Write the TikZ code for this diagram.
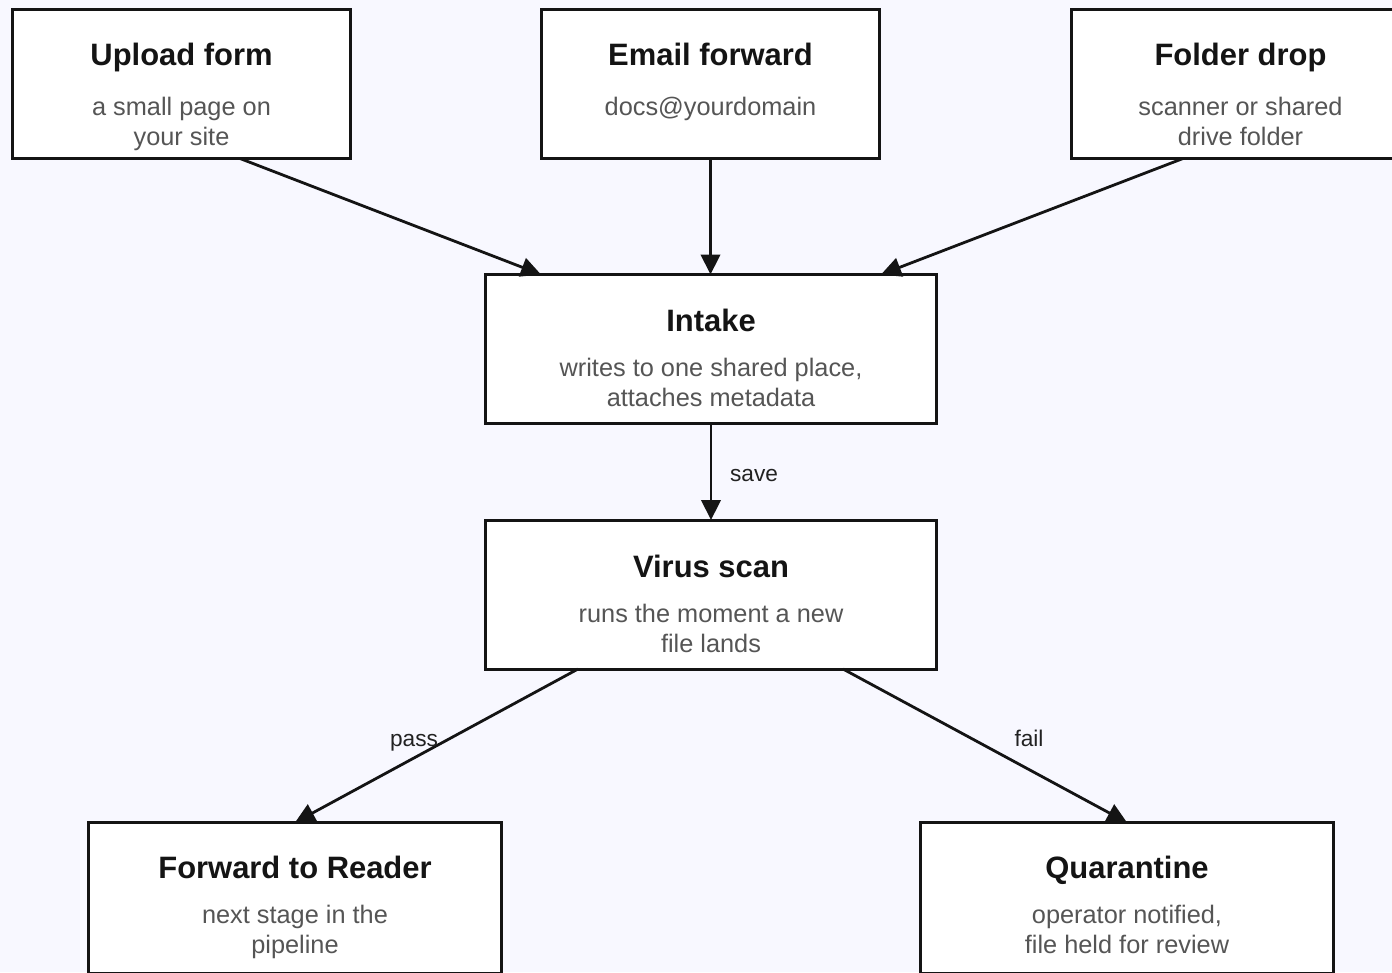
\documentclass[tikz,border=0pt]{standalone}
\usepackage{fontspec}
\setmainfont{Liberation Sans}
\usetikzlibrary{arrows.meta,calc}
\definecolor{bgc}{RGB}{248,248,255}
\definecolor{ink}{RGB}{20,20,20}
\definecolor{subc}{RGB}{85,85,85}
\definecolor{labc}{RGB}{34,34,34}
\tikzset{
  box/.style={draw=ink, line width=2.25pt, fill=white, rectangle, inner sep=0pt, outer sep=0pt},
  topbox/.style={box, minimum width={338*0.75pt}, minimum height={149*0.75pt}},
  midbox/.style={box, minimum width={451*0.75pt}, minimum height={149*0.75pt}},
  botbox/.style={box, minimum width={413*0.75pt}, minimum height={151*0.75pt}},
  ttl/.style={anchor=base, inner sep=0pt, text=ink, font=\fontsize{23.2pt}{27pt}\selectfont\bfseries},
  sub/.style={anchor=base, inner sep=0pt, text=subc, align=center, font=\fontsize{19pt}{22.5pt}\selectfont},
  lab/.style={anchor=base, inner sep=0pt, text=labc, font=\fontsize{17pt}{20pt}\selectfont},
  conn/.style={draw=ink, line width=2.1pt, -{Triangle[length=15pt,width=14.5pt]}},
}
\begin{document}
\begin{tikzpicture}[x=0.75pt, y=-0.75pt]
\useasboundingbox (0,0) rectangle (1392,972);
\clip (0,0) rectangle (1392,972);
\fill[bgc] (0,0) rectangle (1392,972);

% boxes
\node[topbox] (up) at (181.5,84) {};
\node[topbox] (em) at (710.5,84) {};
\node[topbox] (fd) at (1240.5,84) {};
\node[midbox] (in) at (711,349) {};
\node[midbox] (vs) at (711,594.5) {};
\node[botbox] (fw) at (295,898) {};
\node[botbox] (qu) at (1127,898) {};

% texts (multi-line nodes: base = last line)
\node[ttl] (upT) at ($(up.north)+(0,56)$) {Upload form};
\node[sub] (upS) at ($(up.north)+(0,136)$) {a small page on\\your site};
\node[ttl] (emT) at ($(em.north)+(0,56)$) {Email forward};
\node[sub] (emS) at ($(em.north)+(0,106)$) {docs@yourdomain};
\node[ttl] (fdT) at ($(fd.north)+(0,56)$) {Folder drop};
\node[sub] (fdS) at ($(fd.north)+(0,136)$) {scanner or shared\\drive folder};
\node[ttl] (inT) at ($(in.north)+(0,57)$) {Intake};
\node[sub] (inS) at ($(in.north)+(0,132)$) {writes to one shared place,\\attaches metadata};
\node[ttl] (vsT) at ($(vs.north)+(0,57)$) {Virus scan};
\node[sub] (vsS) at ($(vs.north)+(0,132)$) {runs the moment a new\\file lands};
\node[ttl] (fwT) at ($(fw.north)+(0,56)$) {Forward to Reader};
\node[sub] (fwS) at ($(fw.north)+(0,131)$) {next stage in the\\pipeline};
\node[ttl] (quT) at ($(qu.north)+(0,56)$) {Quarantine};
\node[sub] (quS) at ($(qu.north)+(0,131)$) {operator notified,\\file held for review};

% connectors
\draw[conn] ($(up.south)+(58.5,0)$) -- ($(in.north)+(-170,0)$);
\draw[conn] (em.south) -- (em.south |- in.north);
\draw[conn] ($(fd.south)+(-57.5,0)$) -- ($(in.north)+(170,0)$);
\draw[conn] (in.south) -- (vs.north);
\draw[conn] ($(vs.south)+(-133,0)$) -- (fw.north);
\draw[conn] ($(vs.south)+(132,0)$) -- (qu.north);

% labels
\node[lab] (lsave) at (754,481) {save};
\node[lab] (lpass) at (414,746) {pass};
\node[lab] (lfail) at (1029,746) {fail};
\end{tikzpicture}
\end{document}
